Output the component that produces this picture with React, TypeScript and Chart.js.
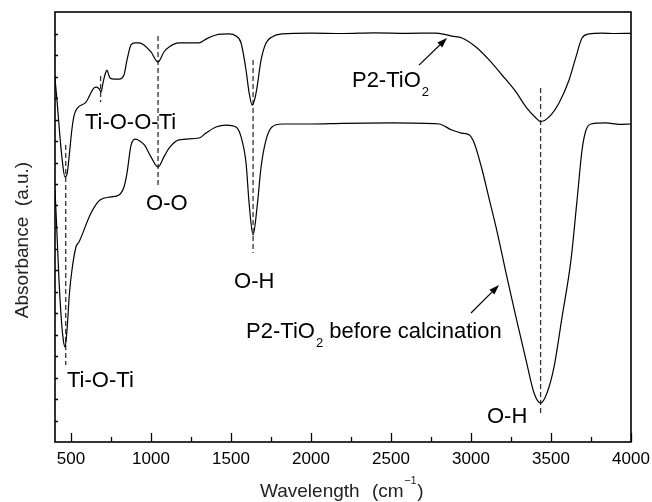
import React, { useEffect, useRef } from "react";
import { Chart, registerables } from "chart.js";

Chart.register(...registerables);

const FONT = "'Liberation Sans', Arial, Helvetica, sans-serif";

// Wavenumber axis
const X_MIN = 400;
const X_MAX = 4000;
const X_MAJOR_TICKS = [500, 1000, 1500, 2000, 2500, 3000, 3500, 4000];
const X_MINOR_TICKS = [750, 1250, 1750, 2250, 2750, 3250, 3750];
const Y_MIN = 0;
const Y_MAX = 20;
const Y_MINOR_TICKS = [1, 2, 3, 4, 5, 6, 7, 8, 9, 10, 11, 12, 13, 14, 15, 16, 17, 18, 19];

// P2-TiO2 (calcined) spectrum
const CALCINED_X = [
  400, 415, 430, 445, 462, 475, 490, 505, 520, 540, 594, 644, 662, 678, 688, 700, 715, 725, 735, 744,
  770, 800, 831, 850, 875, 900, 925, 956, 1000, 1044, 1081, 1113, 1175, 1300, 1344, 1406, 1488, 1531,
  1563, 1594, 1612, 1632, 1650, 1663, 1688, 1719, 1756, 1819, 2000, 2200, 2400, 2600, 2780, 2840, 2881,
  2944, 3031, 3113, 3194, 3281, 3344, 3406, 3435, 3488, 3550, 3613, 3656, 3694, 3738, 3819, 3900, 4000,
];
const CALCINED_Y = [
  16.93, 15.67, 14.28, 13.12, 12.33, 12.45, 13.4, 14.5, 15.2, 15.53, 15.81, 16.47, 16.51, 16.4, 16.28, 16.7, 17.15, 17.3, 17.1, 16.93,
  16.88, 16.88, 17.07, 17.77, 18.47, 18.56, 18.56, 18.47, 18.14, 17.67, 18.14, 18.37, 18.56, 18.56, 18.74, 18.93, 18.98, 18.88,
  18.56, 17.3, 16.3, 15.67, 16.0, 16.51, 17.77, 18.56, 18.84, 18.98, 19.02, 19.0, 19.03, 19.01, 19.02, 18.95, 18.88,
  18.79, 18.37, 17.77, 17.07, 16.28, 15.58, 15.07, 14.9, 15.12, 15.77, 16.84, 17.91, 18.79, 18.98, 19.02, 19.0, 19.01,
];

// P2-TiO2 before calcination spectrum
const RAW_X = [
  400, 410, 425, 440, 452, 463, 475, 490, 506, 531, 550, 625, 681, 750, 800, 831, 850, 875, 905, 930,
  960, 1000, 1044, 1081, 1113, 1175, 1300, 1344, 1406, 1469, 1531, 1563, 1594, 1613, 1638, 1663, 1688,
  1719, 1756, 1819, 2000, 2200, 2500, 2800, 2880, 2940, 2990, 3020, 3065, 3115, 3165, 3219, 3281, 3344,
  3394, 3435, 3475, 3519, 3569, 3625, 3663, 3694, 3719, 3750, 3844, 3925, 4000,
];
const RAW_Y = [
  11.72, 10.1, 7.53, 5.67, 4.74, 4.42, 5.2, 6.9, 8.0, 9.07, 9.3, 10.65, 11.26, 11.4, 11.49, 11.86, 12.51, 13.8, 14.09, 14.0,
  13.81, 13.26, 12.79, 13.26, 13.67, 14.05, 14.14, 14.37, 14.65, 14.74, 14.65, 14.19, 12.98, 11.12, 9.63, 10.93, 12.79,
  14.05, 14.65, 14.79, 14.79, 14.82, 14.84, 14.79, 14.51, 14.37, 14.28, 13.91, 12.79, 11.26, 9.72, 7.86, 5.81, 3.81,
  2.28, 1.81, 2.28, 3.49, 5.81, 8.47, 11.26, 13.58, 14.51, 14.79, 14.84, 14.77, 14.79,
];

// Dashed peak markers: position, top, bottom
const PEAK_X = [467, 685, 1044, 1638, 3435];
const PEAK_TOP = [13.81, 17.02, 18.88, 17.77, 16.47];
const PEAK_BOTTOM = [3.58, 15.81, 11.86, 8.79, 1.35];

// Annotation labels (left x in cm-1, baseline y in a.u.)
const LABEL_TEXT = ["Ti-O-O-Ti", "O-O", "O-H", "Ti-O-Ti", "O-H"];
const LABEL_X = [587, 969, 1519, 475, 3100];
const LABEL_Y = [14.54, 10.79, 7.15, 2.54, 0.9];

// Sample name labels: [main, subscript, rest]
const SAMPLE_LABELS = [
  { x: 2256, y: 16.51, parts: ["P2-TiO", "2", ""] },
  { x: 1594, y: 4.82, parts: ["P2-TiO", "2", " before calcination"] },
];
// Arrows: tail -> head
const ARROW_TAIL_X = [2675, 3000];
const ARROW_TAIL_Y = [17.53, 6.0];
const ARROW_HEAD_X = [2850, 3175];
const ARROW_HEAD_Y = [18.79, 7.3];

const toPoints = (xs: number[], ys: number[]) => xs.map((x, i) => ({ x, y: ys[i] }));

const decorPlugin = {
  id: "decor",
  afterDatasetsDraw(chart: any) {
    const ctx: CanvasRenderingContext2D = chart.ctx;
    const { left, right, top, bottom } = chart.chartArea;
    const xs = chart.scales.x;
    const ys = chart.scales.y;
    ctx.save();
    ctx.strokeStyle = "#000";
    ctx.fillStyle = "#000";
    // frame
    ctx.lineWidth = 1.6;
    ctx.strokeRect(left, top, right - left, bottom - top);
    // ticks
    ctx.lineWidth = 1.3;
    ctx.beginPath();
    X_MAJOR_TICKS.forEach((v) => {
      const px = Math.round(xs.getPixelForValue(v)) + 0.5;
      ctx.moveTo(px, bottom);
      ctx.lineTo(px, bottom - 9);
    });
    X_MINOR_TICKS.forEach((v) => {
      const px = Math.round(xs.getPixelForValue(v)) + 0.5;
      ctx.moveTo(px, bottom);
      ctx.lineTo(px, bottom - 5);
    });
    Y_MINOR_TICKS.forEach((v) => {
      const py = Math.round(ys.getPixelForValue(v)) + 0.5;
      ctx.moveTo(left, py);
      ctx.lineTo(left + 3, py);
    });
    ctx.stroke();

    // peak labels
    ctx.font = `22px ${FONT}`;
    ctx.textAlign = "left";
    ctx.textBaseline = "alphabetic";
    LABEL_TEXT.forEach((t, i) => {
      ctx.fillText(t, xs.getPixelForValue(LABEL_X[i]), ys.getPixelForValue(LABEL_Y[i]));
    });

    // sample labels with subscript
    SAMPLE_LABELS.forEach((l) => {
      let px = xs.getPixelForValue(l.x);
      const py = ys.getPixelForValue(l.y);
      ctx.font = `22px ${FONT}`;
      ctx.fillText(l.parts[0], px, py);
      px += ctx.measureText(l.parts[0]).width + 1;
      ctx.font = `13px ${FONT}`;
      ctx.fillText(l.parts[1], px, py + 9);
      px += ctx.measureText(l.parts[1]).width;
      if (l.parts[2]) {
        ctx.font = `22px ${FONT}`;
        ctx.fillText(l.parts[2], px, py);
      }
    });

    // arrows
    ctx.lineWidth = 1.2;
    ARROW_TAIL_X.forEach((_, i) => {
      const x1 = xs.getPixelForValue(ARROW_TAIL_X[i]);
      const y1 = ys.getPixelForValue(ARROW_TAIL_Y[i]);
      const x2 = xs.getPixelForValue(ARROW_HEAD_X[i]);
      const y2 = ys.getPixelForValue(ARROW_HEAD_Y[i]);
      const ang = Math.atan2(y2 - y1, x2 - x1);
      const hl = 10;
      const hw = 3.5;
      const bx = x2 - hl * Math.cos(ang);
      const by = y2 - hl * Math.sin(ang);
      ctx.beginPath();
      ctx.moveTo(x1, y1);
      ctx.lineTo(bx, by);
      ctx.stroke();
      ctx.beginPath();
      ctx.moveTo(x2, y2);
      ctx.lineTo(bx + hw * Math.sin(ang), by - hw * Math.cos(ang));
      ctx.lineTo(bx - hw * Math.sin(ang), by + hw * Math.cos(ang));
      ctx.closePath();
      ctx.fill();
    });

    // axis titles
    ctx.font = `19px ${FONT}`;
    ctx.fillStyle = "#222";
    ctx.textAlign = "left";
    let tx = 260;
    const tb = 497;
    ctx.fillText("Wavelength", tx, tb);
    tx = 372;
    ctx.fillText("(cm", tx, tb);
    tx += ctx.measureText("(cm").width + 0.5;
    ctx.font = `11px ${FONT}`;
    ctx.fillText("\u22121", tx, tb - 13);
    tx += ctx.measureText("\u22121").width + 0.5;
    ctx.font = `19px ${FONT}`;
    ctx.fillText(")", tx, tb);

    ctx.save();
    ctx.translate(28, 240);
    ctx.rotate(-Math.PI / 2);
    ctx.textAlign = "center";
    ctx.fillText("Absorbance  (a.u.)", 0, 0);
    ctx.restore();

    ctx.restore();
  },
};

export default function App() {
  const ref = useRef<HTMLCanvasElement | null>(null);
  useEffect(() => {
    if (!ref.current) return;
    const dashed = PEAK_X.map((x, i) => ({
      data: [
        { x, y: PEAK_TOP[i] },
        { x, y: PEAK_BOTTOM[i] },
      ],
      borderColor: "#333",
      borderWidth: 1.3,
      borderDash: [5, 3],
      pointRadius: 0,
      tension: 0,
    }));
    const chart = new Chart(ref.current, {
      type: "line",
      data: {
        datasets: [
          {
            label: "P2-TiO2",
            data: toPoints(CALCINED_X, CALCINED_Y),
            borderColor: "#000",
            borderWidth: 1.2,
            pointRadius: 0,
            cubicInterpolationMode: "monotone",
          },
          {
            label: "P2-TiO2 before calcination",
            data: toPoints(RAW_X, RAW_Y),
            borderColor: "#000",
            borderWidth: 1.2,
            pointRadius: 0,
            cubicInterpolationMode: "monotone",
          },
          ...dashed,
        ] as any,
      },
      options: {
        animation: false,
        responsive: false,
        maintainAspectRatio: false,
        layout: { padding: { left: 0, right: 21, top: 12, bottom: 0 } },
        plugins: { legend: { display: false }, tooltip: { enabled: false } },
        scales: {
          x: {
            type: "linear",
            min: X_MIN,
            max: X_MAX,
            grid: { display: false, drawTicks: false },
            border: { display: false },
            ticks: {
              color: "#000",
              font: { family: FONT, size: 17 },
              padding: 7,
              maxRotation: 0,
              autoSkip: false,
              callback: (v: any) => String(v),
            },
            afterBuildTicks: (s: any) => {
              s.ticks = X_MAJOR_TICKS.map((v) => ({ value: v }));
            },
            afterFit: (s: any) => {
              s.height = 60;
              s.paddingLeft = 0;
              s.paddingRight = 0;
            },
          },
          y: {
            type: "linear",
            min: Y_MIN,
            max: Y_MAX,
            grid: { display: false, drawTicks: false },
            border: { display: false },
            ticks: { display: false },
            afterFit: (s: any) => {
              s.width = 55;
              s.paddingTop = 0;
              s.paddingBottom = 0;
            },
          },
        },
      } as any,
      plugins: [decorPlugin],
    });
    return () => chart.destroy();
  }, []);
  return (
    <div style={{ position: "fixed", left: 0, top: 0, width: 652, height: 502, background: "#fff" }}>
      <canvas ref={ref} width={652} height={502} style={{ display: "block" }} />
    </div>
  );
}
